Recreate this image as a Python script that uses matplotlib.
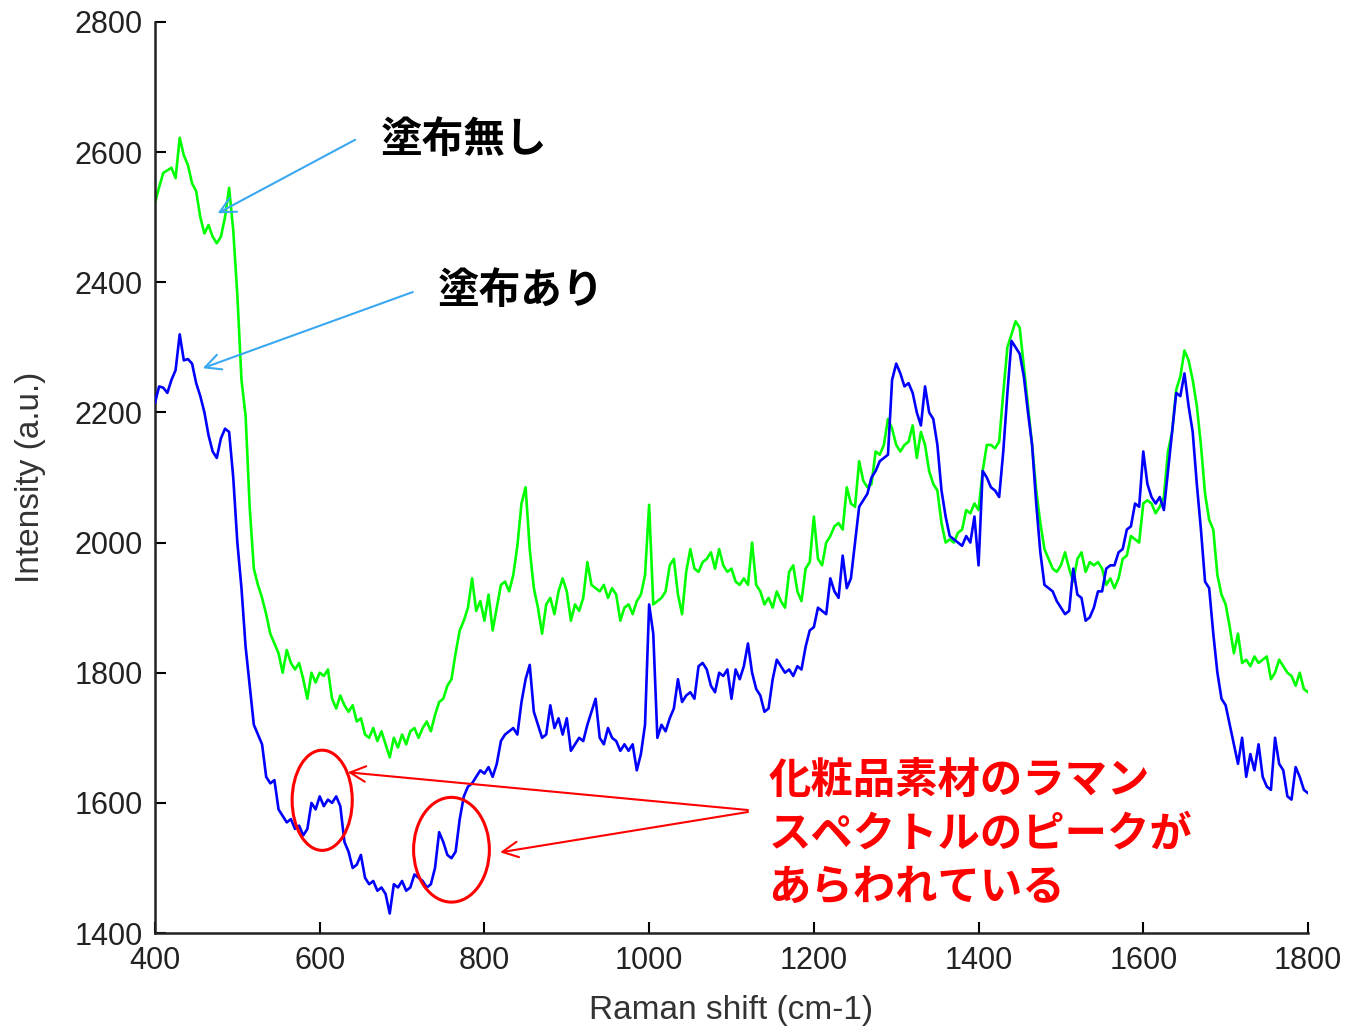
import numpy as np
import matplotlib
matplotlib.use("Agg")
import matplotlib.pyplot as plt
from matplotlib.patches import Ellipse

# Raman shift grid (cm-1), 5 cm-1 step from 400 to 1800
raman_shift = np.arange(400, 1801, 5)

# 塗布無し (uncoated) spectrum - green
uncoated = [
    2522, 2546, 2568, 2572, 2576, 2560, 2622, 2595, 2580, 2552,
    2540, 2500, 2475, 2488, 2470, 2460, 2470, 2500, 2545, 2480,
    2380, 2250, 2195, 2054, 1960, 1935, 1915, 1890, 1860, 1845,
    1830, 1800, 1835, 1815, 1805, 1815, 1790, 1760, 1800, 1785,
    1800, 1795, 1805, 1760, 1745, 1765, 1750, 1740, 1750, 1725,
    1730, 1705, 1700, 1715, 1695, 1710, 1690, 1670, 1700, 1685,
    1705, 1690, 1710, 1715, 1700, 1715, 1725, 1710, 1735, 1755,
    1760, 1780, 1790, 1830, 1865, 1880, 1900, 1945, 1895, 1910,
    1880, 1920, 1865, 1900, 1935, 1940, 1925, 1950, 1995, 2060,
    2085, 1990, 1930, 1900, 1860, 1905, 1915, 1890, 1925, 1945,
    1925, 1880, 1905, 1895, 1915, 1970, 1935, 1930, 1925, 1935,
    1915, 1930, 1920, 1880, 1900, 1905, 1890, 1910, 1920, 1950,
    2058, 1905, 1910, 1915, 1925, 1965, 1975, 1920, 1890, 1955,
    1990, 1960, 1955, 1970, 1975, 1985, 1960, 1990, 1965, 1955,
    1960, 1940, 1935, 1945, 1935, 2000, 1935, 1925, 1905, 1915,
    1900, 1925, 1910, 1900, 1955, 1965, 1925, 1910, 1960, 1970,
    2040, 1975, 1965, 2000, 2010, 2025, 2030, 2020, 2085, 2060,
    2055, 2125, 2095, 2085, 2090, 2140, 2135, 2150, 2190, 2175,
    2150, 2140, 2150, 2155, 2180, 2130, 2170, 2150, 2110, 2090,
    2080, 2030, 2000, 2005, 2000, 2015, 2020, 2050, 2045, 2060,
    2050, 2110, 2150, 2150, 2145, 2155, 2230, 2300, 2320, 2340,
    2330, 2270, 2210, 2150, 2080, 2030, 1990, 1975, 1960, 1955,
    1965, 1985, 1960, 1940, 1975, 1985, 1955, 1970, 1965, 1970,
    1960, 1935, 1945, 1930, 1945, 1975, 1980, 2010, 2005, 2000,
    2060, 2065, 2060, 2045, 2055, 2070, 2140, 2170, 2235, 2255,
    2295, 2280, 2250, 2210, 2150, 2075, 2035, 2020, 1950, 1920,
    1905, 1870, 1830, 1860, 1815, 1820, 1810, 1825, 1815, 1820,
    1825, 1790, 1800, 1820, 1810, 1800, 1795, 1780, 1800, 1775,
    1770,
]

# 塗布あり (coated) spectrum - blue
coated = [
    2215, 2240, 2238, 2230, 2250, 2265, 2320, 2280, 2282, 2275,
    2245, 2225, 2200, 2165, 2140, 2130, 2160, 2175, 2170, 2100,
    2000, 1930, 1840, 1780, 1720, 1705, 1690, 1640, 1630, 1635,
    1590, 1580, 1570, 1575, 1560, 1565, 1550, 1560, 1600, 1590,
    1610, 1595, 1605, 1600, 1610, 1595, 1540, 1525, 1500, 1505,
    1520, 1485, 1475, 1480, 1465, 1470, 1460, 1430, 1475, 1470,
    1480, 1465, 1470, 1490, 1485, 1480, 1470, 1475, 1500, 1555,
    1540, 1520, 1515, 1525, 1575, 1610, 1625, 1630, 1640, 1650,
    1645, 1655, 1640, 1660, 1695, 1705, 1710, 1715, 1705, 1755,
    1790, 1812, 1740, 1720, 1700, 1705, 1750, 1715, 1730, 1705,
    1730, 1680, 1690, 1700, 1695, 1720, 1740, 1760, 1700, 1690,
    1715, 1700, 1695, 1680, 1690, 1680, 1690, 1650, 1675, 1720,
    1905, 1860, 1700, 1720, 1710, 1730, 1745, 1790, 1755, 1765,
    1770, 1760, 1810, 1815, 1805, 1780, 1770, 1800, 1795, 1805,
    1760, 1805, 1790, 1810, 1845, 1800, 1775, 1765, 1740, 1745,
    1790, 1820, 1810, 1800, 1805, 1795, 1810, 1805, 1840, 1865,
    1870, 1900, 1895, 1890, 1945, 1925, 1915, 1980, 1930, 1945,
    2000, 2055, 2065, 2075, 2100, 2110, 2125, 2130, 2135, 2250,
    2275, 2260, 2240, 2245, 2230, 2200, 2180, 2240, 2200, 2190,
    2150, 2080, 2040, 2010, 2005, 2000, 1995, 2010, 2000, 2040,
    1965, 2110, 2100, 2085, 2080, 2070, 2140, 2230, 2310, 2300,
    2290, 2255, 2200, 2150, 2060, 1985, 1935, 1930, 1925, 1910,
    1900, 1890, 1895, 1960, 1920, 1915, 1880, 1885, 1900, 1925,
    1925, 1960, 1965, 1965, 1985, 1990, 2020, 2025, 2060, 2055,
    2140, 2090, 2070, 2060, 2070, 2050, 2110, 2170, 2230, 2225,
    2260, 2210, 2170, 2090, 2020, 1940, 1930, 1860, 1800, 1760,
    1750, 1720, 1690, 1660, 1700, 1640, 1675, 1650, 1690, 1640,
    1625, 1620, 1700, 1660, 1650, 1610, 1605, 1655, 1640, 1620,
    1615,
]

x_ticks = [400, 600, 800, 1000, 1200, 1400, 1600, 1800]
y_ticks = [1400, 1600, 1800, 2000, 2200, 2400, 2600, 2800]

label_uncoated = "塗布無し"
label_coated = "塗布あり"
note_text = "化粧品素材のラマン\nスペクトルのピークが\nあらわれている"

jp_font = ["Noto Sans CJK JP", "DejaVu Sans"]
num_font = ["Liberation Sans", "DejaVu Sans"]

fig = plt.figure(figsize=(13.49, 10.27), dpi=100)
ax = fig.add_axes([0.1149, 0.0915, 0.9696 - 0.1149, 0.9786 - 0.0915])

ax.plot(raman_shift, uncoated, color="#00ff00", lw=1.9, zorder=2)
ax.plot(raman_shift, coated, color="#0000ff", lw=1.9, zorder=3)

ax.set_xlim(400, 1800)
ax.set_ylim(1400, 2800)
ax.set_xticks(x_ticks)
ax.set_yticks(y_ticks)
ax.set_xticklabels([str(v) for v in x_ticks], family=num_font, fontsize=22)
ax.set_yticklabels([str(v) for v in y_ticks], family=num_font, fontsize=22)
ax.tick_params(direction="in", length=8, width=1.5, pad=9, colors="black")
ax.tick_params(axis="x", labelcolor="#222222")
ax.tick_params(axis="y", labelcolor="#222222")
ax.spines["top"].set_visible(False)
ax.spines["right"].set_visible(False)
for s in ("left", "bottom"):
    ax.spines[s].set_linewidth(1.8)
    ax.spines[s].set_color("#222222")

ax.set_xlabel("Raman shift (cm-1)", family=num_font, fontsize=24, labelpad=14, color="#333333")
ax.set_ylabel("Intensity (a.u.)", family=num_font, fontsize=24, labelpad=20, color="#333333")

# Labels with light blue arrows
arrow_blue = "#3aa8f0"
ax.text(775, 2619, label_uncoated, family=jp_font, fontweight="bold", fontsize=30,
        ha="center", va="center", color="black")
ax.annotate("", xy=(476, 2506), xytext=(643, 2619),
            arrowprops=dict(arrowstyle="->", color=arrow_blue, lw=1.5,
                            mutation_scale=28, shrinkA=0, shrinkB=0))
ax.text(844, 2387, label_coated, family=jp_font, fontweight="bold", fontsize=30,
        ha="center", va="center", color="black")
ax.annotate("", xy=(458, 2268), xytext=(713, 2385),
            arrowprops=dict(arrowstyle="->", color=arrow_blue, lw=1.5,
                            mutation_scale=28, shrinkA=0, shrinkB=0))

# Red ellipses and note
ax.add_patch(Ellipse((603, 1604), 73, 154, fill=False, edgecolor="red", lw=2.2, zorder=4))
ax.add_patch(Ellipse((760, 1528), 92, 161, fill=False, edgecolor="red", lw=2.2, zorder=4))
ax.annotate("", xy=(634, 1647), xytext=(1120, 1589),
            arrowprops=dict(arrowstyle="->", color="red", lw=1.5,
                            mutation_scale=28, shrinkA=0, shrinkB=0))
ax.annotate("", xy=(819, 1524), xytext=(1120, 1586),
            arrowprops=dict(arrowstyle="->", color="red", lw=1.5,
                            mutation_scale=28, shrinkA=0, shrinkB=0))
ax.text(1145, 1552, note_text, family=jp_font, fontweight="bold", fontsize=30.5,
        ha="left", va="center", color="red", linespacing=1.33, multialignment="left")

fig.savefig("out.png", dpi=100, facecolor="white")
